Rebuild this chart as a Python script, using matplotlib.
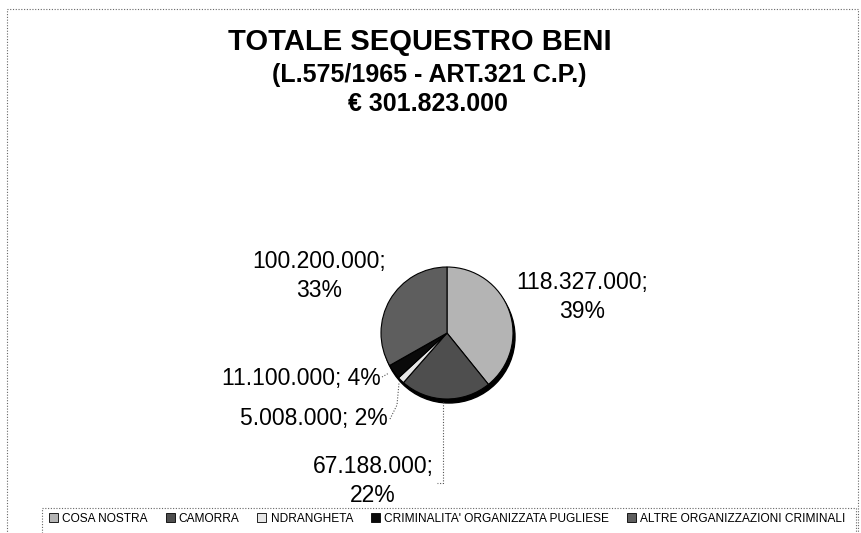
import matplotlib
matplotlib.use("Agg")
import matplotlib.pyplot as plt
from matplotlib.patches import Rectangle, Circle, Patch

plt.rcParams['font.family'] = ['Liberation Sans', 'DejaVu Sans']

# data
categories = ["COSA NOSTRA", "CAMORRA", "NDRANGHETA",
              "CRIMINALITA' ORGANIZZATA PUGLIESE", "ALTRE ORGANIZZAZIONI CRIMINALI"]
values = [118327000, 67188000, 5008000, 11100000, 100200000]
percents = [39, 22, 2, 4, 33]
colors = ["#b4b4b4", "#4e4e4e", "#e6e6e6", "#0a0a0a", "#5e5e5e"]
title_lines = ["TOTALE SEQUESTRO BENI", "(L.575/1965 - ART.321 C.P.)", "€ 301.823.000"]

W, H = 862, 533


def py(y):
    # image-style y (top = 0) to axes y
    return H - y


def fmt(v):
    return "{:,}".format(v).replace(",", ".")


fig = plt.figure(figsize=(W / 100, H / 100), dpi=100)
ax = fig.add_axes([0, 0, 1, 1])
ax.set_xlim(0, W)
ax.set_ylim(0, H)
ax.set_aspect("equal")
ax.axis("off")

dotted = (0, (1, 1.5))

# dotted outer frame
ax.add_patch(Rectangle((7, py(540)), 851, 531, fill=False, ec="#666666",
                       lw=0.8, ls=dotted))

# titles
ax.text(420, py(42), title_lines[0], ha="center", va="center",
        fontsize=21, fontweight="bold")
ax.text(429, py(75), title_lines[1], ha="center", va="center",
        fontsize=18, fontweight="bold")
ax.text(428, py(104), title_lines[2], ha="center", va="center",
        fontsize=18, fontweight="bold")

# pie with a dark rim underneath for the 3D look
cx, cy, r = 447, py(333), 66
ax.add_patch(Circle((cx + 2, cy - 4), r, color="black", zorder=1))
wedges, _ = ax.pie(values, colors=colors, startangle=90, counterclock=False,
                   center=(cx, cy), radius=r, frame=True,
                   wedgeprops=dict(edgecolor="black", linewidth=0.8))
for w in wedges:
    w.set_zorder(2)
ax.set_xlim(0, W)
ax.set_ylim(0, H)
ax.axis("off")

# data labels
labels = [f"{fmt(v)}; {p}%" for v, p in zip(values, percents)]
lab_fs = 16.5
ax.text(582, py(297), labels[0].replace(" ", "\n", 1), ha="center", va="center",
        fontsize=lab_fs, linespacing=1.3)
ax.text(319, py(276), labels[4].replace(" ", "\n", 1), ha="center", va="center",
        fontsize=lab_fs, linespacing=1.3)
ax.text(373, py(481), labels[1].replace(" ", "\n", 1), ha="center", va="center",
        fontsize=lab_fs, linespacing=1.3)
ax.text(381, py(378), labels[3], ha="right", va="center", fontsize=lab_fs)
ax.text(388, py(419), labels[2], ha="right", va="center", fontsize=lab_fs)

# leader lines
lk = dict(color="#555555", lw=0.8, ls=dotted, zorder=3)
ax.plot([382, 389], [py(377), py(373)], **lk)
ax.plot([390, 397, 399], [py(419), py(405), py(383)], **lk)
ax.plot([443, 443, 437], [py(402), py(483), py(483)], **lk)

# legend: dotted box runs past the bottom edge
ax.add_patch(Rectangle((42, py(545)), 814, 37, fill=False, ec="#666666",
                       lw=0.8, ls=dotted))
handles = [Patch(facecolor=c, edgecolor="black", linewidth=0.6) for c in colors]
leg = fig.legend(handles, categories, loc="center left",
                 bbox_to_anchor=(49 / W, 1 - 519 / H), ncol=5,
                 fontsize=8.6, frameon=False,
                 handlelength=0.75, handleheight=0.75, handletextpad=0.35,
                 columnspacing=1.5, borderpad=0, borderaxespad=0)

fig.savefig("out.png", dpi=100)
